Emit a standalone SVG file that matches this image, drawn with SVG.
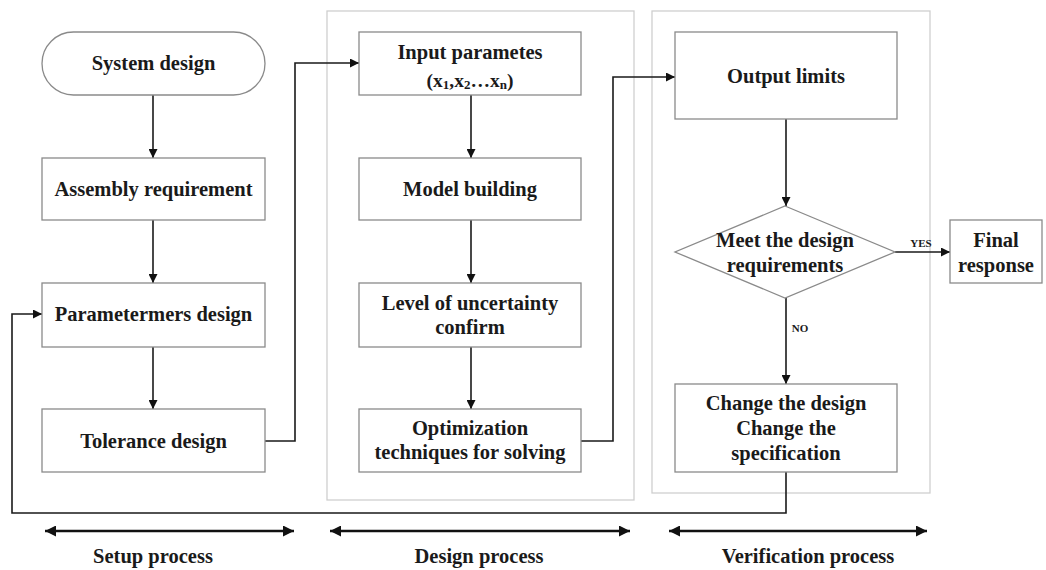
<svg xmlns="http://www.w3.org/2000/svg" width="1046" height="570" viewBox="0 0 1046 570">
<defs>
<marker id="arr" viewBox="0 0 10 10" refX="10" refY="5" markerWidth="9" markerHeight="9" markerUnits="userSpaceOnUse" orient="auto"><path d="M0,0 L10,5 L0,10 z" fill="#111"/></marker>
<marker id="darr" viewBox="0 0 10 10" refX="10" refY="5" markerWidth="11" markerHeight="11" markerUnits="userSpaceOnUse" orient="auto-start-reverse"><path d="M0,0 L10,5 L0,10 z" fill="#111"/></marker>
<style>
.box{fill:#fff;stroke:#8a8a8a;stroke-width:1.3}
.panel{fill:none;stroke:#cfcfcf;stroke-width:1.3}
.t{font-family:"Liberation Serif","Times New Roman",serif;font-weight:bold;font-size:20.5px;fill:#1a1a1a;text-anchor:middle;dominant-baseline:central}
.s{font-family:"Liberation Serif","Times New Roman",serif;font-weight:bold;font-size:11px;fill:#1a1a1a;text-anchor:middle;dominant-baseline:central}
.c{fill:none;stroke:#1a1a1a;stroke-width:1.6}
.d{fill:none;stroke:#111;stroke-width:2.6}
</style>
</defs>
<rect width="1046" height="570" fill="#fff"/>
<g id="panels">
<rect class="panel" x="327" y="11" width="307" height="489"/>
<rect class="panel" x="652" y="11" width="278" height="482"/>
</g>
<g id="connectors">
<path class="c" d="M153,95 V158" marker-end="url(#arr)"/>
<path class="c" d="M153,220 V283" marker-end="url(#arr)"/>
<path class="c" d="M153,347 V409" marker-end="url(#arr)"/>
<path class="c" d="M265,441 H295 V63 H359" marker-end="url(#arr)"/>
<path class="c" d="M471,95 V158" marker-end="url(#arr)"/>
<path class="c" d="M471,220 V283" marker-end="url(#arr)"/>
<path class="c" d="M471,347 V409" marker-end="url(#arr)"/>
<path class="c" d="M581,441 H613 V77 H675" marker-end="url(#arr)"/>
<path class="c" d="M786,119 V206" marker-end="url(#arr)"/>
<path class="c" d="M895,252 H950" marker-end="url(#arr)"/>
<path class="c" d="M786,298 V384" marker-end="url(#arr)"/>
<path class="c" d="M786,472 V513 H12 V314 H42" marker-end="url(#arr)"/>
<text class="s" x="921" y="243">YES</text>
<text class="s" x="800" y="328">NO</text>
</g>
<g id="n-system">
<rect class="box" x="42" y="32" width="223" height="63" rx="31.5"/>
<text class="t" x="153.5" y="63">System design</text>
</g>
<g id="n-assembly">
<rect class="box" x="42" y="158" width="223" height="62"/>
<text class="t" x="153.5" y="189">Assembly requirement</text>
</g>
<g id="n-param">
<rect class="box" x="42" y="283" width="223" height="64"/>
<text class="t" x="153.5" y="314">Parametermers design</text>
</g>
<g id="n-tolerance">
<rect class="box" x="42" y="409" width="223" height="63"/>
<text class="t" x="153.5" y="441">Tolerance design</text>
</g>
<g id="n-input">
<rect class="box" x="359" y="32" width="222" height="63"/>
<text class="t" x="470" y="52">Input parametes</text>
<text class="t" x="470" y="80" style="font-size:19.5px">(x<tspan font-size="13" dy="4">1</tspan><tspan dy="-4">,x</tspan><tspan font-size="13" dy="4">2</tspan><tspan dy="-4">…x</tspan><tspan font-size="13" dy="4">n</tspan><tspan dy="-4">)</tspan></text>
</g>
<g id="n-model">
<rect class="box" x="359" y="158" width="222" height="62"/>
<text class="t" x="470" y="189">Model building</text>
</g>
<g id="n-level">
<rect class="box" x="359" y="283" width="222" height="64"/>
<text class="t" x="470" y="303">Level of uncertainty</text>
<text class="t" x="470" y="327">confirm</text>
</g>
<g id="n-optim">
<rect class="box" x="359" y="409" width="222" height="63"/>
<text class="t" x="470" y="428">Optimization</text>
<text class="t" x="470" y="452">techniques for solving</text>
</g>
<g id="n-output">
<rect class="box" x="675" y="32" width="222" height="87"/>
<text class="t" x="786" y="76">Output limits</text>
</g>
<g id="n-meet">
<polygon class="box" points="785,206 895,252 785,298 675,252"/>
<text class="t" x="785" y="240">Meet the design</text>
<text class="t" x="785" y="265">requirements</text>
</g>
<g id="n-final">
<rect class="box" x="950" y="220" width="92" height="63"/>
<text class="t" x="996" y="240">Final</text>
<text class="t" x="996" y="265">response</text>
</g>
<g id="n-change">
<rect class="box" x="675" y="384" width="222" height="88"/>
<text class="t" x="786" y="403">Change the design</text>
<text class="t" x="786" y="428">Change the</text>
<text class="t" x="786" y="453">specification</text>
</g>
<g id="phases">
<path class="d" d="M45,531 H294" marker-start="url(#darr)" marker-end="url(#darr)"/>
<path class="d" d="M330,531 H630" marker-start="url(#darr)" marker-end="url(#darr)"/>
<path class="d" d="M669,531 H927" marker-start="url(#darr)" marker-end="url(#darr)"/>
<text class="t" x="153" y="556">Setup process</text>
<text class="t" x="479" y="556">Design process</text>
<text class="t" x="808" y="556">Verification process</text>
</g>
</svg>
